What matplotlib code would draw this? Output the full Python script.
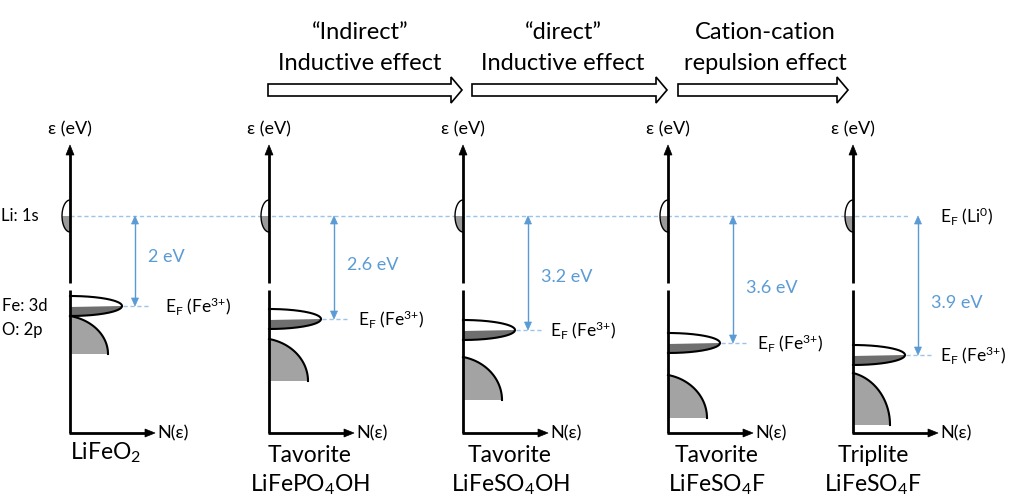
import numpy as np
import matplotlib
matplotlib.use("Agg")
import matplotlib.pyplot as plt
from matplotlib.patches import Polygon

# ---------------- data ----------------
structures = ["", "Tavorite", "Tavorite", "Tavorite", "Triplite"]
compounds = ["LiFeO$_2$", "LiFePO$_4$OH", "LiFeSO$_4$OH", "LiFeSO$_4$F", "LiFeSO$_4$F"]
gap_ev = [2.0, 2.6, 3.2, 3.6, 3.9]
gap_labels = [f"{g:g} eV" for g in gap_ev]
# schematic depth of the Fe 3d Fermi level below the Li 1s level (diagram units)
fe3d_depth = [90, 103, 114, 127, 139]
effects = ["\u201cIndirect\u201d\nInductive effect",
           "\u201cdirect\u201d\nInductive effect",
           "Cation-cation\nrepulsion effect"]

# ---------------- layout (pixel-like diagram units) ----------------
W, H = 1009, 498
axis_x = [70, 269, 463, 668, 853]
li_y = 216
base_y = 433
top_y = 145
o2p_gap = [0, 10, 17, 22, 8]
o2p_w = [38, 39, 39, 39, 37]
o2p_h = [38, 42, 43, 43, 52]
gap_text_y = [257, 265, 277, 288, 303]
ef_text_dx = [95, 89, 87, 89, 87]
label_cx = [106, 310, 510, 717, 873]
arrow_spans = [(268, 462), (472, 667), (678, 848)]
effect_cx = [360, 563, 765]

BLUE = "#5B9BD5"
LBLUE = "#9DC3E6"

plt.rcParams['font.family'] = ['Lato', 'DejaVu Sans']
plt.rcParams['mathtext.default'] = 'regular'

fig = plt.figure(figsize=(W / 100, H / 100), dpi=100)
ax = fig.add_axes([0, 0, 1, 1])
ax.set_xlim(0, W)
ax.set_ylim(H, 0)
ax.axis('off')

def tri(tip, direction, length, half_w, color):
    tx, ty = tip
    dx, dy = direction
    bx, by = tx - dx * length, ty - dy * length
    px, py = -dy, dx
    pts = [(tx, ty), (bx + px * half_w, by + py * half_w), (bx - px * half_w, by - py * half_w)]
    ax.add_patch(Polygon(pts, closed=True, facecolor=color, edgecolor=color, lw=0.5, zorder=5))

def half_ellipse(cx, cy, a, b, t0, t1, n=80):
    t = np.linspace(t0, t1, n)
    return cx + a * np.cos(t), cy - b * np.sin(t)

# Li reference dashed line
ax.plot([axis_x[0], 910], [li_y, li_y], color=LBLUE, lw=1.0, ls=(0, (3, 2)), zorder=1)

fs_small = 13
fs_ef = 12.5
fs_big = 16.5
for i, x0 in enumerate(axis_x):
    fe_y = li_y + fe3d_depth[i]
    # vertical axis with break
    ax.plot([x0, x0], [base_y, 290], color='black', lw=2, zorder=4, solid_capstyle='butt')
    ax.plot([x0, x0], [283, top_y + 8], color='black', lw=2, zorder=4, solid_capstyle='butt')
    tri((x0, top_y), (0, -1), 10, 4, 'black')
    # horizontal axis
    ax.plot([x0 - 1, x0 + 76], [base_y, base_y], color='black', lw=2, zorder=4, solid_capstyle='butt')
    tri((x0 + 85, base_y), (1, 0), 10, 4, 'black')
    ax.text(x0 + 87, base_y, "N(\u03b5)", fontsize=fs_small, va='center', ha='left')
    ax.text(x0, 129, "\u03b5 (eV)", fontsize=fs_small, va='center', ha='center')

    # Li 1s (left half-ellipse)
    xs, ys = half_ellipse(x0, li_y, 8, 16, np.pi / 2, np.pi)
    ax.add_patch(Polygon(np.column_stack([np.r_[xs, x0], np.r_[ys, li_y]]), facecolor='white', edgecolor='none', zorder=2))
    xs2, ys2 = half_ellipse(x0, li_y, 8, 16, np.pi, 1.5 * np.pi)
    ax.add_patch(Polygon(np.column_stack([np.r_[xs2, x0], np.r_[ys2, li_y]]), facecolor='#9a9a9a', edgecolor='none', zorder=2))
    ax.plot(np.r_[xs, xs2], np.r_[ys, ys2], color='black', lw=1.0, zorder=3)

    # Fe 3d (right half-ellipse)
    xs, ys = half_ellipse(x0, fe_y, 52, 10, 0, np.pi / 2)
    ax.add_patch(Polygon(np.column_stack([np.r_[xs, x0], np.r_[ys, fe_y]]), facecolor='white', edgecolor='none', zorder=2))
    xs2, ys2 = half_ellipse(x0, fe_y, 52, 10, -np.pi / 2, 0)
    ax.add_patch(Polygon(np.column_stack([np.r_[xs2, x0], np.r_[ys2, fe_y + 1]]), facecolor='#6f6f6f', edgecolor='none', zorder=2))
    ax.plot(np.r_[xs2, xs], np.r_[ys2, ys], color='black', lw=1.5, zorder=3)

    # O 2p (quarter ellipse, centre slightly left of the axis)
    o_top = fe_y + 10 + o2p_gap[i]
    o_bot = o_top + o2p_h[i]
    off = 10
    a = o2p_w[i] + off
    t_start = np.arccos(off / a)
    xs, ys = half_ellipse(x0 - off, o_bot, a, o2p_h[i] / np.sin(t_start), t_start, 0)
    ax.add_patch(Polygon(np.column_stack([np.r_[xs, x0], np.r_[ys, o_bot]]), facecolor='#a3a3a3', edgecolor='none', zorder=2))
    ax.plot(xs, ys, color='black', lw=1.5, zorder=3)

    # gap arrow
    gx = x0 + 65
    ax.plot([gx, gx], [li_y + 7, fe_y - 7], color=BLUE, lw=1.0, zorder=4)
    tri((gx, li_y), (0, -1), 8, 3.5, BLUE)
    tri((gx, fe_y), (0, 1), 8, 3.5, BLUE)
    ax.text(x0 + 78, gap_text_y[i], gap_labels[i], color=BLUE, fontsize=fs_small, va='center', ha='left')

    # Fermi level of Fe3+
    ax.plot([x0 + 53, x0 + 80], [fe_y, fe_y], color=LBLUE, lw=1.0, ls=(0, (3, 2)), zorder=1)
    ax.text(x0 + ef_text_dx[i], fe_y, "E$_F$ (Fe$^{3{+}}$)", fontsize=fs_ef, va='center', ha='left')

    # compound labels
    if structures[i]:
        ax.text(label_cx[i], 455, structures[i], fontsize=fs_big, ha='center', va='center')
        ax.text(label_cx[i], 485, compounds[i], fontsize=fs_big, ha='center', va='center')
    else:
        ax.text(label_cx[i], 453, compounds[i], fontsize=fs_big, ha='center', va='center')

# first panel level labels
ax.text(1, li_y, "Li: 1s", fontsize=12, va='center', ha='left')
ax.text(2, li_y + fe3d_depth[0], "Fe: 3d", fontsize=12, va='center', ha='left')
ax.text(2, 330, "O: 2p", fontsize=12, va='center', ha='left')
ax.text(940, li_y, "E$_F$ (Li$^0$)", fontsize=fs_ef, va='center', ha='left')

# block arrows with effect labels
cy = 90
for (xs_, xt), cx, lab in zip(arrow_spans, effect_cx, effects):
    xb = xt - 11
    pts = [(xs_, cy - 6), (xb, cy - 6), (xb, cy - 13), (xt, cy), (xb, cy + 13), (xb, cy + 6), (xs_, cy + 6)]
    ax.add_patch(Polygon(pts, closed=True, facecolor='white', edgecolor='black', lw=1.2, zorder=3))
    l1, l2 = lab.split("\n")
    ax.text(cx, 32, l1, fontsize=17, ha='center', va='center')
    ax.text(cx, 63, l2, fontsize=17, ha='center', va='center')

fig.savefig("out.png", dpi=100)
